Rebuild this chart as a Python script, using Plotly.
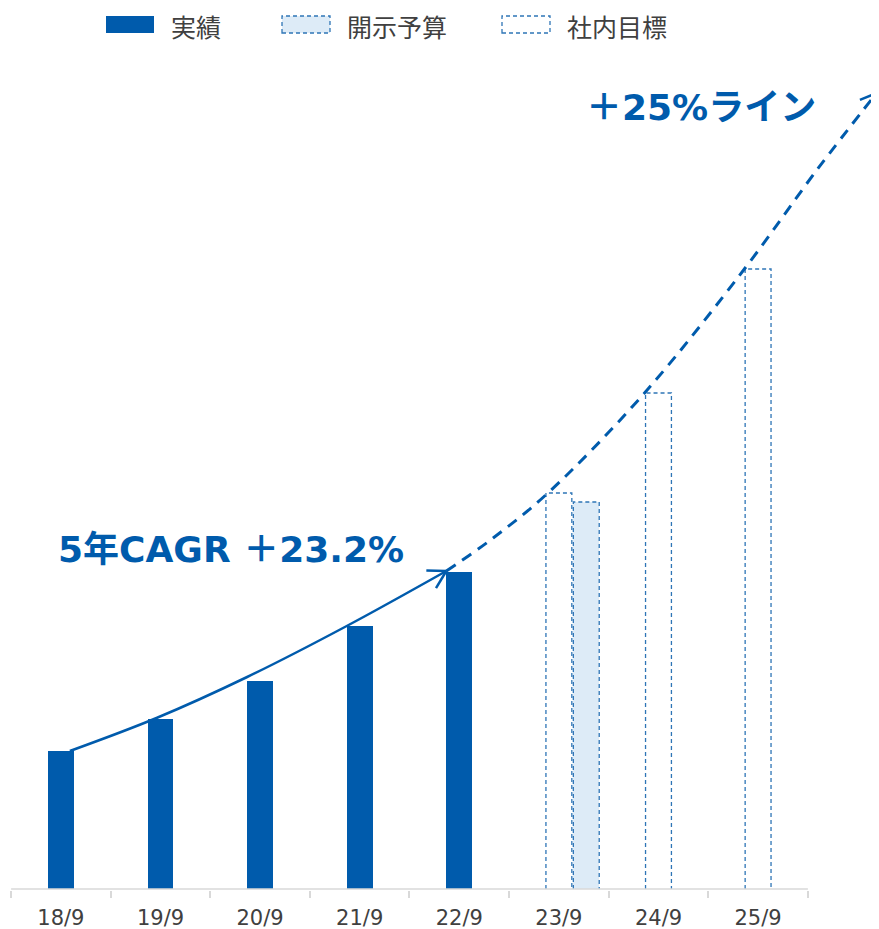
import math
import plotly.graph_objects as go

# data (heights, arbitrary units)
periods = ["18/9", "19/9", "20/9", "21/9", "22/9", "23/9", "24/9", "25/9"]
actual_pos = [0, 1, 2, 3, 4]
actual = [138, 170, 208, 263, 317]
budget_pos = [5]
budget = [387]
target_pos = [5, 6, 7]
target = [396, 496, 620]

# trend curves
cagr_x = [0.09, 0.96, 1.87, 2.87, 3.87]
cagr_y = [138, 171, 212, 263, 318]
line25_x = [3.87, 4.34, 4.89, 5.86, 6.87, 7.59, 8.19]
line25_y = [318, 351, 396, 496, 621, 719, 796]

legend_names = ["実績", "開示予算", "社内目標"]
cagr_label = "5年CAGR ＋23.2%"
line25_label = "＋25%ライン"

BLUE = "#005BAC"
DASH_BLUE = "#2E75B6"
LIGHT = "#DDEBF7"
GREY = "#404040"
AXIS = "#D9D9D9"

# the page body adds an 8px margin, so the figure is 8px smaller
W, H = 871, 921
MB = 39
x_range = [-0.531, 8.214]
y_range = [-1, 881]
sx = W / (x_range[1] - x_range[0])
sy = (H - MB) / (y_range[1] - y_range[0])
BW = 0.26

fig = go.Figure()

fig.add_trace(go.Bar(x=actual_pos, y=actual, width=BW, marker_color=BLUE,
                     marker_line_width=0, name=legend_names[0], showlegend=False))
fig.add_trace(go.Bar(x=target_pos, y=target, width=BW, offset=-BW / 2, marker_color="white",
                     marker_line_width=0, name=legend_names[2], showlegend=False))
fig.add_trace(go.Bar(x=budget_pos, y=budget, width=BW, offset=BW / 2 + 0.015, marker_color=LIGHT,
                     marker_line_width=0, name=legend_names[1], showlegend=False))


def outline(pos, vals, off):
    for p, v in zip(pos, vals):
        x0, x1 = p + off, p + off + BW
        fig.add_trace(go.Scatter(x=[x0, x0, x1, x1], y=[0, v, v, 0], mode="lines",
                                 line=dict(color=DASH_BLUE, width=1.3, dash="4px,3px"),
                                 showlegend=False, hoverinfo="skip"))


outline(target_pos, target, -BW / 2)
outline(budget_pos, budget, BW / 2 + 0.015)


def chevron(xs, ys, length=20, ang=30):
    # open arrow head in pixel space at the last point
    dx = (xs[-1] - xs[-2]) * sx
    dy = (ys[-1] - ys[-2]) * sy
    back = math.atan2(-dy, -dx)
    ax, ay = [], []
    for s in (-1, 1):
        a = back + s * math.radians(ang)
        ax += [xs[-1] + length * math.cos(a) / sx, xs[-1], None]
        ay += [ys[-1] + length * math.sin(a) / sy, ys[-1], None]
    return ax, ay


fig.add_trace(go.Scatter(x=cagr_x, y=cagr_y, mode="lines", line=dict(color=BLUE, width=2.5, shape="spline"),
                         showlegend=False, hoverinfo="skip"))
ax, ay = chevron(cagr_x, cagr_y)
fig.add_trace(go.Scatter(x=ax, y=ay, mode="lines", line=dict(color=BLUE, width=2.5),
                         showlegend=False, hoverinfo="skip"))

fig.add_trace(go.Scatter(x=line25_x, y=line25_y, mode="lines",
                         line=dict(color=BLUE, width=3, dash="11px,8px", shape="spline"),
                         showlegend=False, hoverinfo="skip"))
ax, ay = chevron(line25_x, line25_y, length=18)
fig.add_trace(go.Scatter(x=ax, y=ay, mode="lines", line=dict(color=BLUE, width=2.5),
                         showlegend=False, hoverinfo="skip"))

# axis baseline (only spans the categories)
fig.add_shape(type="line", xref="x", yref="y", x0=-0.5, x1=7.5, y0=0, y1=0,
              line=dict(color=AXIS, width=1.5), layer="above")


# hand made legend, positions in figure pixels
def px(x):
    return x / W


def py(y):
    return 1 - y / (H - MB)


legend_x = [98, 274, 494]
legend_fill = [BLUE, LIGHT, "white"]
for i, name in enumerate(legend_names):
    fig.add_shape(type="rect", xref="paper", yref="paper",
                  x0=px(legend_x[i]), x1=px(legend_x[i] + 48), y0=py(25), y1=py(8),
                  fillcolor=legend_fill[i],
                  line=dict(color=BLUE if i == 0 else DASH_BLUE, width=0 if i == 0 else 1.3,
                            dash="solid" if i == 0 else "4px,3px"))
    fig.add_annotation(xref="paper", yref="paper", x=px(legend_x[i] + 64), y=py(18),
                       text=name, showarrow=False, xanchor="left", yanchor="middle", borderpad=0,
                       font=dict(family="Noto Sans CJK JP", size=25, color=GREY))

fig.add_annotation(xref="paper", yref="paper", x=px(48), y=py(541), text=f"<b>{cagr_label}</b>",
                   showarrow=False, xanchor="left", yanchor="middle",
                   font=dict(family="DejaVu Sans, Noto Sans CJK JP", size=36, color=BLUE))
fig.add_annotation(xref="paper", yref="paper", x=px(576), y=py(99), text=f"<b>{line25_label}</b>",
                   showarrow=False, xanchor="left", yanchor="middle",
                   font=dict(family="DejaVu Sans, Noto Sans CJK JP", size=36, color=BLUE))

fig.update_layout(
    width=W, height=H,
    margin=dict(l=0, r=0, t=0, b=MB),
    plot_bgcolor="white", paper_bgcolor="white",
    barmode="overlay", bargap=0,
    xaxis=dict(range=x_range, tickvals=list(range(len(periods))), ticktext=periods,
               showgrid=False, zeroline=False, showline=False, ticks="",
               ticklabelstandoff=13,
               tickfont=dict(family="DejaVu Sans", size=21, color=GREY),
               minor=dict(tickvals=[i - 0.5 for i in range(len(periods) + 1)], ticks="outside",
                          ticklen=7, tickcolor=AXIS, tickwidth=1.5, showgrid=False),
               fixedrange=True, automargin=False),
    yaxis=dict(range=y_range, visible=False, fixedrange=True),
)

fig.write_html("out.html")
